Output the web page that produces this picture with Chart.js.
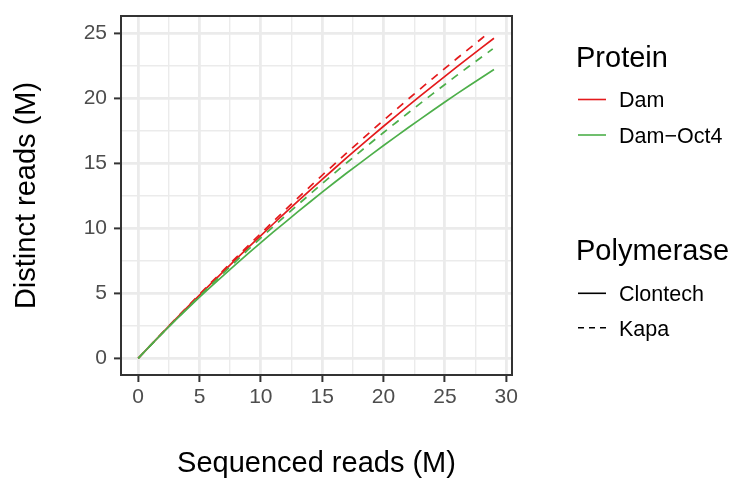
<!DOCTYPE html>
<html>
<head>
<meta charset="utf-8">
<title>Distinct vs sequenced reads</title>
<script src="https://cdn.jsdelivr.net/npm/chart.js@4.4.1/dist/chart.umd.min.js"></script>
<style>
    html, body { margin: 0; padding: 0; background: #fff; }
    canvas { display: block; }
</style>
</head>
<body>
<canvas id="readsChart" width="733" height="478"></canvas>
<script>
// sequenced reads (M) for each library
const readsClontech = [0, 1, 2, 3, 4, 5, 6, 7, 8, 9, 10, 11, 12, 13, 14, 15, 16, 17, 18, 19, 20, 21, 22, 23, 24, 25, 26, 27, 28, 29];
const readsDamKapa = [0, 1, 2, 3, 4, 5, 6, 7, 8, 9, 10, 11, 12, 13, 14, 15, 16, 17, 18, 19, 20, 21, 22, 23, 24, 25, 26, 27, 28, 28.5];
const readsOctKapa = [0, 1, 2, 3, 4, 5, 6, 7, 8, 9, 10, 11, 12, 13, 14, 15, 16, 17, 18, 19, 20, 21, 22, 23, 24, 25, 26, 27, 28, 28.9];

// distinct reads (M)
const damClontech = [0, 0.99, 1.98, 2.95, 3.91, 4.86, 5.80, 6.72, 7.64, 8.55, 9.44, 10.33, 11.20, 12.07, 12.92, 13.77, 14.60, 15.43, 16.24, 17.05, 17.85, 18.63, 19.41, 20.18, 20.94, 21.69, 22.44, 23.17, 23.90, 24.62];
const octClontech = [0, 0.99, 1.96, 2.90, 3.81, 4.70, 5.57, 6.42, 7.26, 8.09, 8.90, 9.70, 10.48, 11.26, 12.02, 12.78, 13.52, 14.25, 14.96, 15.67, 16.37, 17.05, 17.73, 18.40, 19.06, 19.71, 20.36, 20.98, 21.60, 22.21];
const damKapa = [0, 0.99, 1.99, 2.97, 3.95, 4.92, 5.88, 6.82, 7.76, 8.69, 9.60, 10.52, 11.42, 12.32, 13.20, 14.08, 14.94, 15.80, 16.64, 17.48, 18.31, 19.12, 19.93, 20.73, 21.52, 22.30, 23.08, 23.84, 24.60, 24.98];
const octKapa = [0, 0.98, 1.96, 2.91, 3.85, 4.78, 5.70, 6.60, 7.50, 8.39, 9.26, 10.12, 10.96, 11.80, 12.62, 13.44, 14.24, 15.04, 15.82, 16.60, 17.37, 18.12, 18.87, 19.61, 20.34, 21.06, 21.78, 22.48, 23.18, 23.80];

const xTicks = [0, 5, 10, 15, 20, 25, 30];
const yTicks = [0, 5, 10, 15, 20, 25];
const xMinor = [2.5, 7.5, 12.5, 17.5, 22.5, 27.5];
const yMinor = [2.5, 7.5, 12.5, 17.5, 22.5];

const proteinLabels = ['Dam', 'Dam\u2212Oct4'];
const polymeraseLabels = ['Clontech', 'Kapa'];

const RED = '#E41A1C';
const GREEN = '#4DAF4A';
const FONT = '"Liberation Sans", Arial, Helvetica, sans-serif';

function pairs(xs, ys) {
    return xs.map((x, i) => ({ x: x, y: ys[i] }));
}

function gridFor(major) {
    return {
        color: '#EBEBEB',
        lineWidth: c => (c.tick && major.includes(c.tick.value)) ? 2.8 : 1.4,
        drawTicks: true,
        tickLength: 7,
        tickWidth: 2,
        tickColor: c => (c.tick && major.includes(c.tick.value)) ? '#333333' : 'rgba(0,0,0,0)'
    };
}

// panel border drawn over the lines, like ggplot
const borderPlugin = {
    id: 'panelBorder',
    afterDatasetsDraw(chart) {
        const a = chart.chartArea;
        const ctx = chart.ctx;
        ctx.save();
        ctx.strokeStyle = '#333333';
        ctx.lineWidth = 2;
        ctx.strokeRect(a.left, a.top, a.right - a.left, a.bottom - a.top);
        ctx.restore();
    }
};

// two legend blocks on the right
const legendPlugin = {
    id: 'ggLegend',
    afterDraw(chart) {
        const ctx = chart.ctx;
        ctx.save();
        ctx.fillStyle = '#000';
        ctx.textBaseline = 'alphabetic';
        ctx.textAlign = 'left';
        ctx.font = '29px ' + FONT;
        ctx.fillText('Protein', 576, 67);
        ctx.fillText('Polymerase', 576, 260);

        ctx.font = '21.5px ' + FONT;
        ctx.lineWidth = 1.6;

        const protColors = [RED, GREEN];
        const protY = [99.5, 135];
        proteinLabels.forEach((lab, i) => {
            ctx.strokeStyle = protColors[i];
            ctx.setLineDash([]);
            ctx.beginPath();
            ctx.moveTo(578, protY[i]);
            ctx.lineTo(606, protY[i]);
            ctx.stroke();
            ctx.fillText(lab, 619, protY[i] + 7.8);
        });

        const polyY = [293.3, 327.7];
        const polyDash = [[], [6, 5]];
        polymeraseLabels.forEach((lab, i) => {
            ctx.strokeStyle = '#000';
            ctx.setLineDash(polyDash[i]);
            ctx.beginPath();
            ctx.moveTo(578, polyY[i]);
            ctx.lineTo(606, polyY[i]);
            ctx.stroke();
            ctx.fillText(lab, 619, polyY[i] + 7.8);
        });
        ctx.restore();
    }
};

const ctx = document.getElementById('readsChart').getContext('2d');
new Chart(ctx, {
    type: 'line',
    data: {
        datasets: [
            { label: 'Dam-Oct4 Kapa', data: pairs(readsOctKapa, octKapa), borderColor: GREEN, borderDash: [8, 7] },
            { label: 'Dam-Oct4 Clontech', data: pairs(readsClontech, octClontech), borderColor: GREEN },
            { label: 'Dam Kapa', data: pairs(readsDamKapa, damKapa), borderColor: RED, borderDash: [8, 7] },
            { label: 'Dam Clontech', data: pairs(readsClontech, damClontech), borderColor: RED }
        ]
    },
    options: {
        responsive: false,
        animation: false,
        devicePixelRatio: 1,
        layout: { padding: { top: 16, right: 221, left: 0, bottom: 0 } },
        elements: {
            point: { radius: 0, hoverRadius: 0 },
            line: { borderWidth: 1.7, tension: 0, fill: false }
        },
        plugins: {
            legend: { display: false },
            tooltip: { enabled: false }
        },
        scales: {
            x: {
                type: 'linear',
                min: -1.4,
                max: 30.47,
                bounds: 'data',
                afterBuildTicks: s => { s.ticks = xTicks.concat(xMinor).map(v => ({ value: v })); },
                afterFit: s => { s.height = 103; s.paddingLeft = 0; s.paddingRight = 0; },
                grid: gridFor(xTicks),
                border: { display: false },
                ticks: {
                    includeBounds: false,
                    autoSkip: false,
                    maxRotation: 0,
                    padding: 3,
                    color: '#4D4D4D',
                    font: { family: FONT, size: 21 },
                    callback: v => xTicks.includes(v) ? String(v) : ''
                },
                title: {
                    display: true,
                    text: 'Sequenced reads (M)',
                    color: '#000',
                    font: { family: FONT, size: 29, lineHeight: 1 },
                    padding: { top: 1.5, bottom: 0 }
                }
            },
            y: {
                type: 'linear',
                min: -1.285,
                max: 26.33,
                bounds: 'data',
                afterBuildTicks: s => { s.ticks = yTicks.concat(yMinor).map(v => ({ value: v })); },
                afterFit: s => { s.width = 121; s.paddingTop = 0; s.paddingBottom = 0; },
                grid: gridFor(yTicks),
                border: { display: false },
                ticks: {
                    includeBounds: false,
                    autoSkip: false,
                    padding: 7,
                    color: '#4D4D4D',
                    font: { family: FONT, size: 21, lineHeight: 0.8 },
                    callback: v => yTicks.includes(v) ? String(v) : ''
                },
                title: {
                    display: true,
                    text: 'Distinct reads (M)',
                    color: '#000',
                    font: { family: FONT, size: 29, lineHeight: 1 },
                    padding: { top: 12, bottom: 0 }
                }
            }
        }
    },
    plugins: [borderPlugin, legendPlugin]
});
</script>
</body>
</html>
